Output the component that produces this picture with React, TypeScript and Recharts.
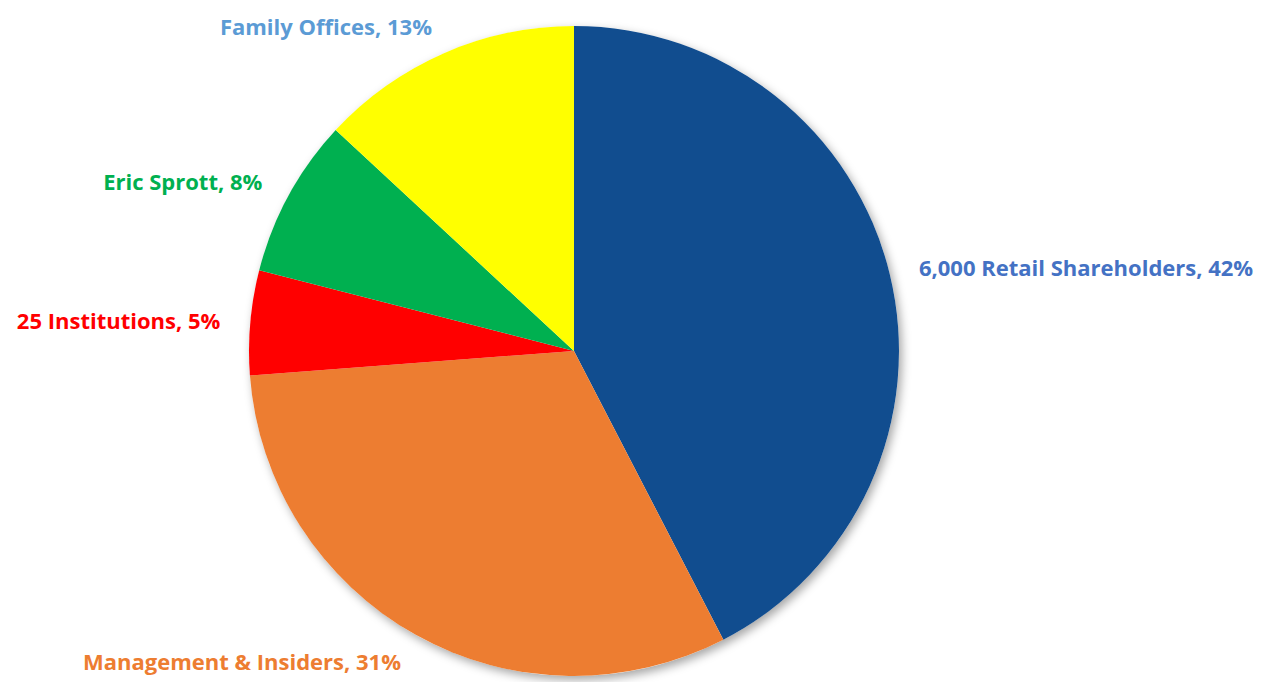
import { PieChart, Pie, Cell } from "recharts";

// shareholder split (labels show the rounded %)
const holders = ["6,000 Retail Shareholders", "Management & Insiders", "25 Institutions", "Eric Sprott", "Family Offices"];
const shares = [42.4, 31.4, 5.2, 7.9, 13.1];
const shownPct = ["42%", "31%", "5%", "8%", "13%"];

const sliceColors = ["#114D8F", "#ED7D31", "#FF0000", "#00B050", "#FFFF00"];
const labelColors = ["#4472C4", "#ED7D31", "#FF0000", "#00B050", "#5B9BD5"];

const data = holders.map((name, i) => ({ name, value: shares[i], pct: shownPct[i] }));

const RAD = Math.PI / 180;

function renderLabel(props: any) {
  const { cx, cy, midAngle, outerRadius, index } = props;
  const r = outerRadius + 30;
  const x = cx + r * Math.cos(-midAngle * RAD);
  const y = cy + r * Math.sin(-midAngle * RAD);
  const anchor = Math.cos(-midAngle * RAD) >= 0 ? "start" : "end";
  return (
    <text
      x={x}
      y={y}
      textAnchor={anchor}
      dominantBaseline="central"
      fill={labelColors[index]}
      fontFamily="'Open Sans', sans-serif"
      fontWeight={700}
      fontSize={22}
    >
      {`${data[index].name}, ${data[index].pct}`}
    </text>
  );
}

export default function App() {
  return (
    <div style={{ position: "absolute", left: 0, top: 0, background: "#fff" }}>
      <PieChart width={1261} height={682} margin={{ top: 0, right: 0, bottom: 0, left: 0 }}>
        {/* soft shadow disc under the pie */}
        <Pie
          data={[{ name: "shadow", value: 1 }]}
          dataKey="value"
          cx={574}
          cy={351}
          outerRadius={325}
          startAngle={90}
          endAngle={-270}
          stroke="none"
          isAnimationActive={false}
          label={false}
          labelLine={false}
        >
          <Cell fill="#ffffff" style={{ filter: "drop-shadow(3px 4px 5px rgba(0,0,0,0.35))" }} />
        </Pie>
        <Pie
          data={data}
          dataKey="value"
          nameKey="name"
          cx={574}
          cy={351}
          outerRadius={325}
          startAngle={90}
          endAngle={-270}
          stroke="none"
          isAnimationActive={false}
          label={renderLabel}
          labelLine={false}
        >
          {data.map((d, i) => (
            <Cell key={d.name} fill={sliceColors[i]} />
          ))}
        </Pie>
      </PieChart>
    </div>
  );
}
